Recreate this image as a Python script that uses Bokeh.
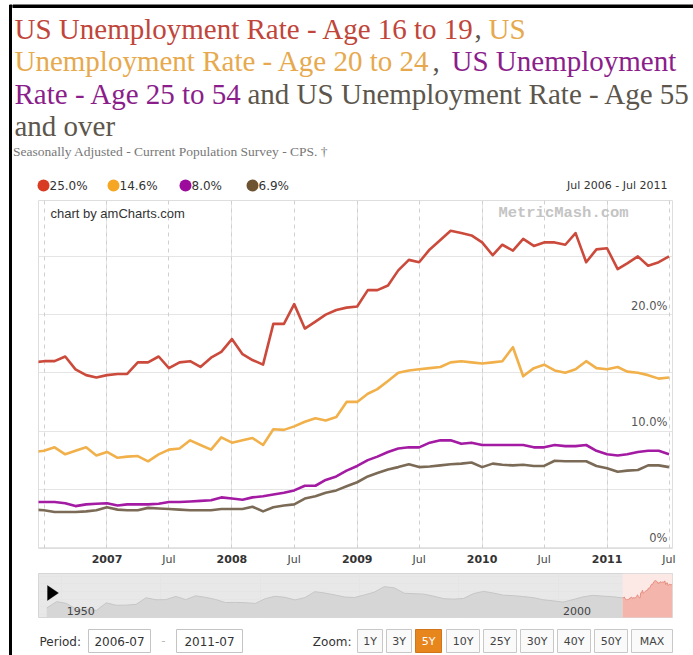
from datetime import datetime
from bokeh.plotting import figure
from bokeh.layouts import row, column
from bokeh.models import (Range1d, DatetimeAxis, FixedTicker, DatetimeTickFormatter, Grid,
                          ColumnDataSource, Label, PolyAnnotation, BoxAnnotation)
from bokeh.core.properties import value
from bokeh.embed import file_html
from bokeh.resources import INLINE


def month_list(y, m, n):
    out = []
    for _ in range(n):
        out.append(datetime(y, m, 1))
        m += 1
        if m > 12:
            m, y = 1, y + 1
    return out


def ms(dt):
    return (dt - datetime(1970, 1, 1)).total_seconds() * 1000.0


# ---------------- data ----------------
months = month_list(2006, 6, 62)  # Jun 2006 .. Jul 2011

age_16_19 = [15.9,
             16.0, 16.0, 16.4, 15.3, 14.8, 14.6,
             14.8, 14.9, 14.9, 15.9, 15.9, 16.4, 15.4, 15.9, 16.0, 15.5, 16.3, 16.8,
             17.9, 16.6, 16.1, 15.7, 19.2, 19.2, 20.9, 18.8, 19.4, 20.0, 20.4, 20.6,
             20.7, 22.1, 22.1, 22.5, 23.8, 24.7, 24.5, 25.6, 26.4, 27.2, 27.0, 26.8,
             26.2, 25.1, 26.0, 25.5, 26.5, 25.9, 26.2, 26.2, 26.0, 27.0, 24.5, 25.6,
             25.7, 23.9, 24.4, 25.0, 24.2, 24.5, 25.0]

age_20_24 = [8.2,
             8.3, 8.6, 8.0, 8.3, 8.6, 7.9,
             8.2, 7.7, 7.8, 7.85, 7.4, 8.0, 8.4, 8.5, 9.2, 8.8, 8.4, 9.45,
             9.0, 9.2, 9.4, 8.8, 10.15, 10.1, 10.4, 10.8, 11.1, 10.9, 11.2, 12.5,
             12.5, 13.2, 13.6, 14.3, 15.0, 15.2, 15.3, 15.4, 15.5, 15.9, 16.0, 15.9,
             15.8, 15.9, 16.0, 17.2, 14.7, 15.4, 15.7, 15.2, 15.0, 15.3, 16.0, 15.4,
             15.3, 15.5, 15.1, 15.0, 14.8, 14.5, 14.6]

age_25_54 = [3.9,
             3.9, 3.9, 3.8, 3.55, 3.7, 3.75,
             3.8, 3.6, 3.7, 3.7, 3.7, 3.75, 3.9, 3.9, 3.95, 4.0, 4.05, 4.3,
             4.2, 4.1, 4.3, 4.4, 4.55, 4.7, 4.9, 5.3, 5.3, 5.8, 6.1, 6.6,
             7.0, 7.5, 7.8, 8.2, 8.5, 8.6, 8.6, 9.0, 9.2, 9.2, 8.9, 9.0,
             8.8, 8.8, 8.8, 8.8, 8.8, 8.6, 8.6, 8.8, 8.7, 8.7, 8.8, 8.3,
             8.0, 7.9, 8.0, 8.2, 8.3, 8.3, 8.0]

age_55_over = [3.25,
               3.2, 3.05, 3.05, 3.05, 3.1, 3.2,
               3.45, 3.25, 3.2, 3.2, 3.4, 3.35, 3.3, 3.25, 3.2, 3.2, 3.2, 3.3,
               3.3, 3.3, 3.5, 3.1, 3.45, 3.6, 3.7, 4.2, 4.4, 4.7, 4.9, 5.25,
               5.6, 6.1, 6.4, 6.7, 6.9, 7.15, 6.9, 6.95, 7.05, 7.15, 7.2, 7.3,
               6.9, 7.2, 7.1, 7.05, 7.1, 7.0, 7.0, 7.45, 7.4, 7.4, 7.4, 7.0,
               6.8, 6.5, 6.6, 6.65, 7.05, 7.05, 6.9]

series_names = ["US Unemployment Rate - Age 16 to 19",
                "US Unemployment Rate - Age 20 to 24",
                "US Unemployment Rate - Age 25 to 54",
                "US Unemployment Rate - Age 55 and over"]

# navigator history (Age 16 to 19), yearly, 1948-2005
hist_years = list(range(1948, 2006))
hist_16_19 = [9.2, 13.4, 12.2, 8.2, 8.5, 7.6, 12.6, 11.0, 11.1, 11.6, 15.9, 14.6, 14.7, 16.8,
              14.7, 17.2, 16.2, 14.8, 12.8, 12.9, 12.7, 12.2, 15.3, 16.9, 16.2, 14.5, 16.0,
              19.9, 19.0, 17.8, 16.4, 16.1, 17.8, 19.6, 23.2, 22.4, 18.9, 18.6, 18.3, 16.9,
              15.3, 15.0, 15.5, 18.7, 20.1, 19.0, 17.6, 17.3, 16.7, 16.0, 14.6, 13.9, 13.1,
              14.7, 16.5, 17.5, 17.0, 16.6]

x_year_ticks = [datetime(y, 1, 1) for y in range(2007, 2012)]
x_jul_ticks = [datetime(y, 7, 1) for y in range(2007, 2012)]
x_grid_ticks = sorted([datetime(y, 1, 1) for y in range(2007, 2012)] +
                      [datetime(y, 7, 1) for y in range(2006, 2012)])
y_ticks = [0, 10, 20]
y_tick_labels = ["0%", "10.0%", "20.0%"]
nav_ticks = [datetime(1950, 1, 1), datetime(2000, 1, 1)]
nav_tick_labels = ["1950", "2000"]
zoom_labels = ["1Y", "3Y", "5Y", "10Y", "25Y", "30Y", "40Y", "50Y", "MAX"]
zoom_selected = "5Y"

# ---------------- styles ----------------
LINE_COLORS = ["#cb4a3b", "#f1b04a", "#a31aa3", "#7b6b56"]
DOT_COLORS = ["#d83c22", "#f5a623", "#9c0b9c", "#6e5332"]
TITLE_COLORS = ["#c0453a", "#e6a94e", "#8b1e8b", "#5c564c"]
SANS = "DejaVu Sans"
SERIF = "Liberation Serif"

common = dict(toolbar_location=None, output_backend="svg", min_border=0, frame_align=False,
              background_fill_color="white", border_fill_color="white")

# ---------------- left black bar ----------------
bar = figure(width=12, height=655, x_range=Range1d(0, 12), y_range=Range1d(655, 0),
             x_axis_location=None, y_axis_location=None, outline_line_color=None, **common)
bar.quad(left=[9], right=[12.3], top=[4.5], bottom=[655], color="black")

# ---------------- header ----------------
head = figure(width=681, height=200, x_range=Range1d(12, 693), y_range=Range1d(200, 0),
              x_axis_location=None, y_axis_location=None, outline_line_color=None, **common)
head.quad(left=[12], right=[693], top=[4.5], bottom=[7], color="black")

segs = [
    ("US Unemployment Rate - Age 16 to 19", 14, 28, TITLE_COLORS[0]),
    (",", 474, 28, TITLE_COLORS[3]),
    ("US", 488, 28, TITLE_COLORS[1]),
    ("Unemployment Rate - Age 20 to 24", 14, 60.5, TITLE_COLORS[1]),
    (",", 432, 60.5, TITLE_COLORS[3]),
    ("US Unemployment", 451, 60.5, TITLE_COLORS[2]),
    ("Rate - Age 25 to 54", 14, 93, TITLE_COLORS[2]),
    ("and US Unemployment Rate - Age 55", 247, 93, TITLE_COLORS[3]),
    ("and over", 14, 125.5, TITLE_COLORS[3]),
]
tsrc = ColumnDataSource(dict(x=[s[1] for s in segs], y=[s[2] for s in segs],
                             t=[s[0] for s in segs], c=[s[3] for s in segs]))
head.text(x="x", y="y", text="t", text_color="c", source=tsrc, text_font=value(SERIF),
          text_font_size="29px", text_baseline="alphabetic", text_align="left")

head.text(x=[12.5], y=[151], text=["Seasonally Adjusted - Current Population Survey - CPS. \u2020"],
          text_font=value(SERIF), text_font_size="13.5px", text_color="#777777",
          text_baseline="middle", text_align="left")

all_series = [age_16_19, age_20_24, age_25_54, age_55_over]
dot_x = [43, 113, 185, 252]
head.scatter(x=dot_x, y=[185] * 4, size=12, color=DOT_COLORS, line_color=None)
head.text(x=[d + 6 for d in dot_x], y=[185] * 4,
          text=["%.1f%%" % s[-1] for s in all_series],
          text_font=value(SANS), text_font_size="12px", text_color="#333333",
          text_baseline="middle", text_align="left")
range_text = "%s - %s" % (months[1].strftime("%b %Y"), months[-1].strftime("%b %Y"))
head.text(x=[667], y=[185], text=[range_text], text_font=value(SANS), text_font_size="11px",
          text_color="#333333", text_baseline="middle", text_align="right")

# ---------------- main chart ----------------
x0 = datetime(2006, 6, 14, 22)
x1 = datetime(2011, 7, 11, 5)
main = figure(width=681, height=373, x_range=Range1d(x0, x1), y_range=Range1d(-0.09, 29.8),
              x_axis_type="datetime", x_axis_location=None, y_axis_location=None,
              toolbar_location=None, output_backend="svg", frame_align=False,
              min_border_left=26, min_border_right=21, min_border_top=0, min_border_bottom=25,
              background_fill_color="white", border_fill_color="white",
              outline_line_color="#dedede")

grid = Grid(dimension=0, ticker=FixedTicker(ticks=[ms(d) for d in x_grid_ticks]),
            grid_line_color="#d0d0d0", grid_line_dash="4 4", grid_line_width=1)
main.add_layout(grid)

for s, c in zip(reversed(all_series), reversed(LINE_COLORS)):
    main.line(x=months, y=s, line_width=2.6, line_color=c, line_join="round")

fmt_keys = ["microseconds", "milliseconds", "seconds", "minsec", "minutes", "hourmin",
            "hours", "days", "months", "years"]
ax_y = DatetimeAxis(ticker=FixedTicker(ticks=[ms(d) for d in x_year_ticks]),
                    formatter=DatetimeTickFormatter(**{k: "%Y" for k in fmt_keys}))
ax_m = DatetimeAxis(ticker=FixedTicker(ticks=[ms(d) for d in x_jul_ticks]),
                    formatter=DatetimeTickFormatter(**{k: "%b" for k in fmt_keys}))
for ax, style, col, so in ((ax_y, "bold", "#333333", 6), (ax_m, "normal", "#444444", -13)):
    ax.axis_line_color = None
    ax.major_tick_line_color = None
    ax.major_tick_out = 0
    ax.major_tick_in = 0
    ax.minor_tick_line_color = None
    ax.major_label_standoff = so
    ax.major_label_text_font = SANS
    ax.major_label_text_font_size = "11px"
    ax.major_label_text_font_style = style
    ax.major_label_text_color = col
    main.add_layout(ax, "below")

main.text(x=[x1] * len(y_ticks), y=y_ticks, text=y_tick_labels, x_offset=-5, y_offset=-2,
          text_align="right", text_baseline="bottom", text_font=value(SANS),
          text_font_size="11.5px", text_color="#555555")

main.add_layout(Label(x=12, y=335, x_units="screen", y_units="screen",
                      text="chart by amCharts.com", text_font="Liberation Sans",
                      text_font_size="13px", text_color="#333333", text_baseline="middle"))
main.add_layout(Label(x=525, y=336, x_units="screen", y_units="screen",
                      text="MetricMash.com", text_font="Liberation Mono", text_font_style="bold",
                      text_font_size="15.5px", text_color="#c4c4c4", text_baseline="middle",
                      text_align="center"))

# ---------------- navigator ----------------
nav = figure(width=681, height=52, x_range=Range1d(datetime(1947, 9, 1), x1),
             y_range=Range1d(3.0, 31.8), x_axis_location=None, y_axis_location=None,
             toolbar_location=None, output_backend="svg", frame_align=False,
             min_border_left=26, min_border_right=21, min_border_top=0, min_border_bottom=8,
             background_fill_color="#e8e8e8", border_fill_color="white",
             outline_line_color="#d6d6d6")
nav.add_layout(BoxAnnotation(left=ms(months[1]), fill_color="#fce9e5", fill_alpha=1,
                             line_color=None, level="underlay"))
hist_x = [datetime(y, 7, 1) for y in hist_years] + months[:2]
hist_y = hist_16_19 + age_16_19[:2]
nav.varea(x=hist_x, y1=[0] * len(hist_x), y2=hist_y, fill_color="#d6d6d6")
nav.line(x=hist_x, y=hist_y, line_color="#c6c6c6", line_width=1)
nav.varea(x=months[1:], y1=[0] * (len(months) - 1), y2=age_16_19[1:], fill_color="#f4b6ac")
nav.line(x=months[1:], y=age_16_19[1:], line_color="#e68c80", line_width=1)
nav.text(x=nav_ticks, y=[3.0] * len(nav_ticks), text=nav_tick_labels, x_offset=5, y_offset=-3,
         text_baseline="bottom", text_align="left", text_font=value(SANS),
         text_font_size="11px", text_color="#444444")
nav.add_layout(PolyAnnotation(xs=[9, 9, 20], ys=[32, 17, 24.5], xs_units="screen",
                              ys_units="screen", fill_color="black", fill_alpha=1,
                              line_color="black"))

# ---------------- controls ----------------
ctrl = figure(width=681, height=30, x_range=Range1d(12, 693), y_range=Range1d(655, 625),
              x_axis_location=None, y_axis_location=None, outline_line_color=None, **common)
period_vals = [months[1].strftime("%Y-%m"), months[-1].strftime("%Y-%m")]
ctrl.text(x=[39], y=[641], text=["Period:"], text_font=value(SANS), text_font_size="12px",
          text_color="#333333", text_baseline="middle")
box_l, box_r = [88, 176], [150, 242]
ctrl.quad(left=box_l, right=box_r, top=[629] * 2, bottom=[652] * 2, fill_color="white",
          line_color="#c4c4c4")
ctrl.text(x=[(a + b) / 2 for a, b in zip(box_l, box_r)], y=[641] * 2, text=period_vals,
          text_font=value(SANS), text_font_size="12px", text_color="#333333",
          text_baseline="middle", text_align="center")
ctrl.text(x=[163], y=[640], text=["-"], text_font=value(SANS), text_font_size="12px",
          text_color="#bbbbbb", text_baseline="middle", text_align="center")
ctrl.text(x=[351], y=[641], text=["Zoom:"], text_font=value(SANS), text_font_size="12px",
          text_color="#333333", text_baseline="middle", text_align="right")
btn_l = [357, 386, 415, 446, 483, 520, 557, 594, 631]
btn_r = [382, 411, 441, 479, 516, 553, 590, 627, 672]
sel = [z == zoom_selected for z in zoom_labels]
ctrl.quad(left=btn_l, right=btn_r, top=[629] * 9, bottom=[652] * 9,
          fill_color=["#e8861e" if s else "#fafafa" for s in sel],
          line_color=["#d0751a" if s else "#c8c8c8" for s in sel])
ctrl.text(x=[(a + b) / 2 for a, b in zip(btn_l, btn_r)], y=[641] * 9, text=zoom_labels,
          text_font=value(SANS), text_font_size="11px",
          text_color=["#ffffff" if s else "#444444" for s in sel],
          text_baseline="middle", text_align="center")

for f in (bar, head, ctrl):
    f.xgrid.visible = False
    f.ygrid.visible = False

layout = row(bar, column(head, main, nav, ctrl, spacing=0), spacing=0)
open("out.html", "w").write(file_html(layout, INLINE))
